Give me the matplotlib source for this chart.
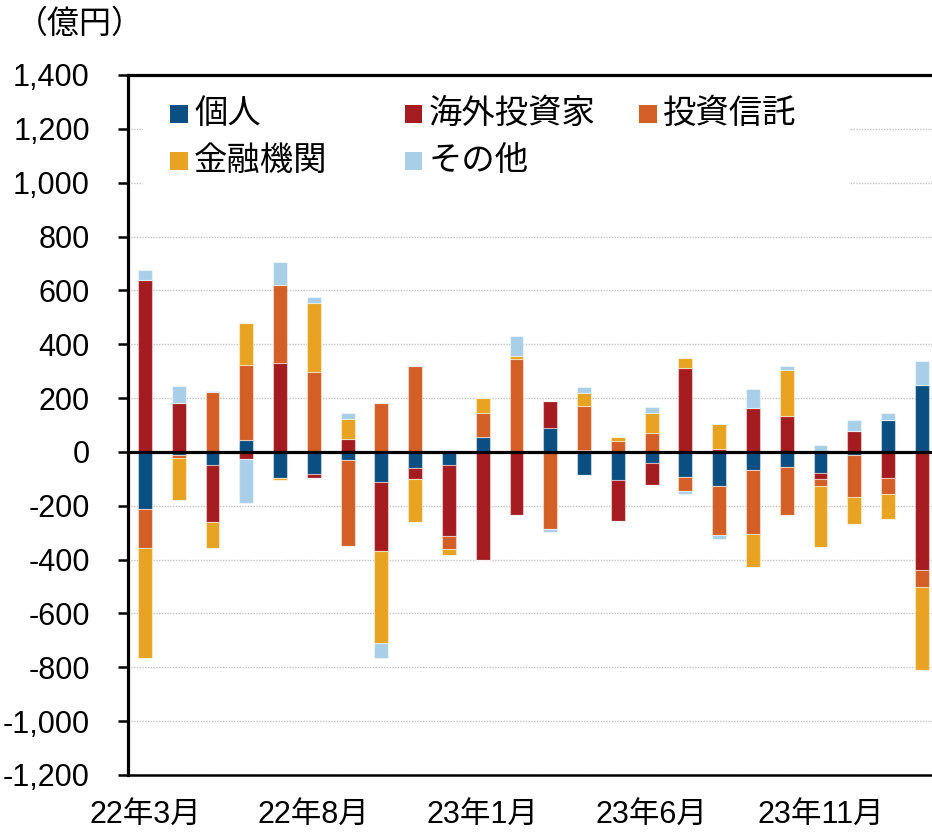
import matplotlib
matplotlib.use('Agg')
import matplotlib.pyplot as plt
import matplotlib.patches as patches
import numpy as np

plt.rcParams['font.family'] = ['Liberation Sans', 'Noto Sans CJK JP']

months = ['22年3月', '22年4月', '22年5月', '22年6月', '22年7月', '22年8月',
          '22年9月', '22年10月', '22年11月', '22年12月', '23年1月', '23年2月',
          '23年3月', '23年4月', '23年5月', '23年6月', '23年7月', '23年8月',
          '23年9月', '23年10月', '23年11月', '23年12月', '24年1月', '24年2月']
shown_months = ['22年3月', '22年8月', '23年1月', '23年6月', '23年11月']

names = ['個人', '海外投資家', '投資信託', '金融機関', 'その他']
colors = ['#0b4f82', '#a51c20', '#d35f27', '#e8a323', '#a9cfe8']

# 億円
kojin = [-212, -12, -50, 45, -95, -81, -31, -110, -58, -48, 54, 0,
         88, -84, -103, -40, -92, -128, -66, -55, -77, -12, 117, 247]
kaigai = [640, 180, -212, -28, 330, -14, 48, -258, -41, -263, -402, -233,
          102, 7, -152, -83, 310, 12, 165, 135, -22, 77, -95, -437]
toshin = [-145, -10, 222, 279, 289, 298, -319, 182, 319, -48, 90, 345,
          -288, 163, 40, 72, -52, -179, -238, -180, -26, -154, -63, -64]
kinyu = [-410, -158, -95, 156, -9, 257, 74, -340, -163, -23, 56, 11,
         0, 48, 14, 72, 39, 93, -123, 169, -228, -103, -91, -309]
sonota = [35, 64, 4, -160, 86, 20, 23, -56, 0, 2, 0, 76,
          -11, 22, 0, 22, -14, -16, 70, 16, 25, 42, 29, 89]
series = [kojin, kaigai, toshin, kinyu, sonota]

W, H = 932, 835
fig = plt.figure(figsize=(W / 100, H / 100), dpi=100)
ax = fig.add_axes([128 / W, 60 / H, 804 / W, 700 / H])

x = np.arange(len(months))
pos_bottom = np.zeros(len(months))
neg_bottom = np.zeros(len(months))
for vals, c in zip(series, colors):
    v = np.array(vals, dtype=float)
    pos = np.where(v > 0, v, 0)
    neg = np.where(v < 0, v, 0)
    ax.bar(x, pos, 0.41, bottom=pos_bottom, color=c,
           edgecolor=(1, 1, 1, 0.45), linewidth=0.8, zorder=2)
    ax.bar(x, neg, 0.41, bottom=neg_bottom, color=c,
           edgecolor=(1, 1, 1, 0.45), linewidth=0.8, zorder=2)
    pos_bottom += pos
    neg_bottom += neg

ax.axhline(0, color='black', lw=2.3, zorder=3)

ax.set_xlim(-0.5, 23.3)
ax.set_ylim(-1200, 1400)
yt = list(range(-1200, 1401, 200))
ax.set_yticks(yt)
ax.set_yticklabels([f'{v:,}' for v in yt])
ax.set_xticks([months.index(m) for m in shown_months])
ax.set_xticklabels(shown_months)
ax.yaxis.grid(True, linestyle=(0, (1, 1)), color='#c4c4c4', linewidth=1)
ax.set_axisbelow(True)

ax.spines['right'].set_visible(False)
ax.spines['left'].set_linewidth(2.3)
ax.spines['top'].set_linewidth(2.3)
ax.spines['bottom'].set_linewidth(1.8)
ax.tick_params(axis='y', length=7.5, width=1.8, direction='out', pad=20,
               labelsize=22)
ax.tick_params(axis='x', length=0, pad=18, labelsize=22)

# white area behind the legend hides the gridlines
ax.add_patch(patches.Rectangle((15 / 804, (775 - 200) / 700), (849 - 143) / 804,
                               (200 - 85) / 700, transform=ax.transAxes,
                               facecolor='white', edgecolor='none', zorder=1.5))

# legend, 3 columns
for i, (name, c) in enumerate(zip(names, colors)):
    col, row = i % 3, i // 3
    lx = 170 + col * 234.5
    ly = 113.5 + row * 47
    fig.add_artist(patches.Rectangle((lx / W, 1 - (ly + 9) / H), 17.5 / W, 17.5 / H,
                                     transform=fig.transFigure, facecolor=c,
                                     edgecolor='none'))
    fig.text((lx + 24) / W, 1 - ly / H, name, fontsize=24, va='center',
             ha='left', family=['Noto Sans CJK JP'])

fig.text(80 / W, 1 - 24 / H, '（億円）', fontsize=23, ha='center', va='center',
         family=['Noto Sans CJK JP'])

fig.savefig('out.png', dpi=100)
